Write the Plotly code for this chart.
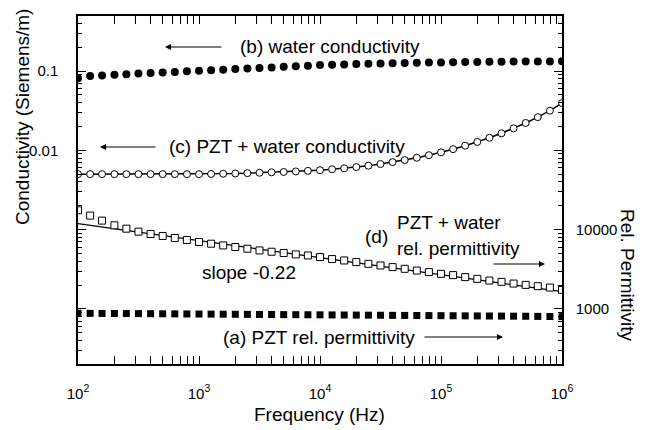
import plotly.graph_objects as go

# ---------------- data ----------------
freq = [100, 126, 158, 200, 251, 316, 398, 501, 631, 794,
        1000, 1259, 1585, 1995, 2512, 3162, 3981, 5012, 6310, 7943,
        10000, 12589, 15849, 19953, 25119, 31623, 39811, 50119, 63096, 79433,
        100000, 125893, 158489, 199526, 251189, 316228, 398107, 501187, 630957, 794328,
        1000000]

# (b) water conductivity (S/m)
water_cond = [0.0811, 0.0866, 0.0881, 0.0896, 0.0912, 0.0928, 0.0944, 0.0958, 0.0974, 0.0991,
              0.1006, 0.1023, 0.1041, 0.1059, 0.1074, 0.1093, 0.1112, 0.1132, 0.1148, 0.1168,
              0.1189, 0.1202, 0.1213, 0.1223, 0.1233, 0.1245, 0.1256, 0.1262, 0.1270, 0.1277,
              0.1284, 0.1292, 0.1296, 0.1303, 0.1307, 0.1311, 0.1315, 0.1318, 0.1322, 0.1322,
              0.1326]

# (c) PZT + water conductivity (S/m)
pztw_cond = [0.00501, 0.00501, 0.00501, 0.00501, 0.00501, 0.00501, 0.00501, 0.00501, 0.00501, 0.00501,
             0.00501, 0.00504, 0.00507, 0.00511, 0.00516, 0.00522, 0.00528, 0.00534, 0.00542, 0.00551,
             0.00562, 0.00577, 0.00594, 0.00615, 0.00640, 0.00672, 0.00710, 0.00754, 0.00806, 0.00869,
             0.00944, 0.01035, 0.01145, 0.01277, 0.01441, 0.01641, 0.01895, 0.02213, 0.02622, 0.03162,
             0.03947]

# (d) PZT + water relative permittivity
pztw_perm = [17550, 15040, 13000, 11340, 10290, 9434, 8822, 8324, 7851, 7406,
             6988, 6650, 6328, 6040, 5747, 5470, 5266, 5072, 4870, 4728,
             4511, 4257, 4088, 3900, 3711, 3533, 3372, 3209, 3053, 2915,
             2773, 2671, 2520, 2397, 2281, 2197, 2091, 2013, 1938, 1860,
             1740]

# (a) PZT relative permittivity
pzt_perm = [882, 880, 878, 877, 875, 873, 871, 869, 867, 865,
            863, 861, 859, 857, 855, 853, 851, 849, 847, 845,
            843, 841, 839, 837, 835, 833, 831, 829, 827, 825,
            823, 821, 819, 817, 815, 813, 811, 809, 806, 803,
            800]

# power-law fit of (d), slope -0.22
fit_freq = [100, 1000000]
fit_perm = [11900, 1650]

x_ticks = [100, 1000, 10000, 100000, 1000000]
x_ticktext = ["10<sup>2</sup>", "10<sup>3</sup>", "10<sup>4</sup>", "10<sup>5</sup>", "10<sup>6</sup>"]
y_ticks = [0.0001, 0.001, 0.01, 0.1]
y_ticktext = ["", "", "0.01", "0.1"]
y2_ticks = [1000, 10000, 100000, 1000000]
y2_ticktext = ["1000", "10000", "", ""]

# ---------------- figure ----------------
FONT = "Liberation Sans, Arial, Helvetica, sans-serif"
fig = go.Figure()

fig.add_trace(go.Scatter(x=freq, y=water_cond, mode="markers",
                         marker=dict(symbol="circle", size=8, color="black"),
                         yaxis="y", showlegend=False))
fig.add_trace(go.Scatter(x=freq, y=pztw_cond, mode="lines+markers",
                         line=dict(color="black", width=1.5),
                         marker=dict(symbol="circle", size=7, color="white",
                                     line=dict(color="black", width=1)),
                         yaxis="y", showlegend=False))
fig.add_trace(go.Scatter(x=fit_freq, y=fit_perm, mode="lines",
                         line=dict(color="black", width=1.3),
                         yaxis="y2", showlegend=False))
fig.add_trace(go.Scatter(x=freq, y=pztw_perm, mode="markers",
                         marker=dict(symbol="square", size=7, color="white",
                                     line=dict(color="black", width=1)),
                         yaxis="y2", showlegend=False))
fig.add_trace(go.Scatter(x=freq, y=pzt_perm, mode="markers",
                         marker=dict(symbol="square", size=7, color="black"),
                         yaxis="y2", showlegend=False))

minor_x = [m * 10 ** e for e in range(2, 6) for m in range(2, 10)]
minor_y = [m * 10 ** e for e in range(-5, 0) for m in range(2, 10)]
minor_y2 = [m * 10 ** e for e in range(2, 7) for m in range(2, 10)]

axis_common = dict(type="log", showgrid=False, zeroline=False, showline=True,
                   linecolor="black", linewidth=1.5, ticks="inside",
                   tickcolor="black", tickwidth=1.2, ticklen=8, automargin=False)

fig.update_layout(
    width=649, height=430,
    margin=dict(l=78, r=87, t=16, b=66, autoexpand=False),
    paper_bgcolor="white", plot_bgcolor="white",
    font=dict(family=FONT, size=16, color="black"),
    xaxis=dict(**axis_common, range=[2, 6], tickmode="array",
               tickvals=x_ticks, ticktext=x_ticktext, mirror="allticks",
               ticklabelstandoff=15,
               tickfont=dict(family=FONT, size=15, color="black"),
               minor=dict(tickmode="array", tickvals=minor_x, ticks="inside",
                          ticklen=4, tickcolor="black", tickwidth=1)),
    yaxis=dict(**axis_common, range=[-4.694, -0.306], tickmode="array",
               tickvals=y_ticks, ticktext=y_ticktext, ticklabelstandoff=15,
               tickfont=dict(family=FONT, size=15, color="black"),
               minor=dict(tickmode="array", tickvals=minor_y, ticks="inside",
                          ticklen=4, tickcolor="black", tickwidth=1)),
    yaxis2=dict(**axis_common, range=[2.306, 6.694], overlaying="y", side="right",
                tickmode="array", tickvals=y2_ticks, ticktext=y2_ticktext,
                ticklabelstandoff=9,
                tickfont=dict(family=FONT, size=15, color="black"),
                minor=dict(tickmode="array", tickvals=minor_y2, ticks="inside",
                           ticklen=4, tickcolor="black", tickwidth=1)),
)

# pixel -> paper helpers for annotation placement
L, R, T, B = 78, 562, 16, 364
def px(x):
    return (x - L) / (R - L)
def py(y):
    return (B - y) / (B - T)

def text(x, y, s, xanchor="left", size=19, angle=0):
    fig.add_annotation(x=px(x), y=py(y), xref="paper", yref="paper", text=s,
                       showarrow=False, xanchor=xanchor, yanchor="middle",
                       textangle=angle, font=dict(family=FONT, size=size, color="black"))

def arrow(x_tail, x_head, y):
    fig.add_annotation(x=px(x_head), y=py(y), xref="paper", yref="paper", text="",
                       showarrow=True, ax=x_tail - x_head, ay=0,
                       arrowhead=2, arrowsize=1.1, arrowwidth=1.1, arrowcolor="black")

text(238, 47, "(b) water conductivity")
arrow(223, 165, 47)
text(167, 147, "(c) PZT + water conductivity")
arrow(157, 100, 147)
text(395, 222, "PZT + water")
text(363, 237, "(d)")
text(395, 248, "rel. permittivity")
arrow(492, 545, 264)
text(200, 272, "slope -0.22")
text(221, 337, "(a) PZT rel. permittivity")
arrow(423, 503, 337)

# axis titles
text(319, 414, "Frequency (Hz)", xanchor="center")
text(22, 117, "Conductivity (Siemens/m)", xanchor="center", angle=-90)
text(628, 275, "Rel. Permittivity", xanchor="center", angle=90)

fig.write_html("out.html", config={"displayModeBar": False},
               post_script="document.body.style.margin='0';document.body.style.padding='0';")
